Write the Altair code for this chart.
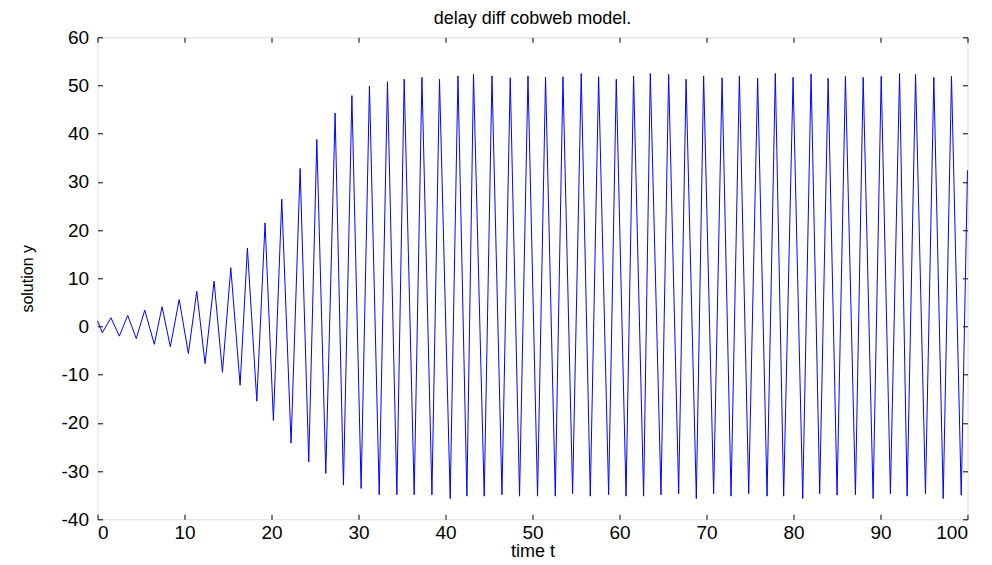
import altair as alt
import pandas as pd

# Extrema of the oscillation (time, value)
t_vals = [0.0, 0.55, 1.55, 2.51, 3.47, 4.46, 5.43, 6.53, 7.42, 8.37,
          9.39, 10.44, 11.41, 12.36, 13.40, 14.36, 15.32, 16.39, 17.23, 18.31,
          19.26, 20.22, 21.18, 22.25, 23.29, 24.28, 25.21, 26.24, 27.31, 28.27,
          29.24, 30.30, 31.26, 32.38, 33.33, 34.41, 35.25, 36.40, 37.29, 38.44,
          39.31, 40.54, 41.43, 42.46, 43.22, 44.45, 45.34, 46.49, 47.44, 48.51,
          49.48, 50.58, 51.50, 52.62, 53.50, 54.61, 55.60, 56.64, 57.60, 58.75,
          59.63, 60.75, 61.62, 62.77, 63.54, 64.77, 65.65, 66.80, 67.65, 68.83,
          69.67, 70.82, 71.79, 72.82, 73.78, 74.85, 75.88, 76.96, 77.91, 78.87,
          79.95, 81.06, 82.02, 83.01, 83.98, 85.01, 85.97, 87.12, 88.01, 89.15,
          90.08, 91.14, 92.19, 93.06, 94.03, 95.17, 96.13, 97.21, 98.16, 99.28,
          100.0]
y_vals = [1.2, -1.3, 1.8, -2.0, 2.3, -2.5, 3.4, -3.7, 4.1, -4.2,
          5.6, -5.6, 7.3, -7.7, 9.4, -9.5, 12.2, -12.2, 16.3, -15.5,
          21.5, -19.5, 26.4, -24.2, 32.8, -28.1, 38.8, -30.5, 44.3, -32.9,
          47.9, -33.6, 49.9, -34.9, 50.8, -34.9, 51.3, -34.9, 51.7, -34.9,
          51.3, -35.7, 52.0, -35.2, 52.3, -35.2, 52.0, -34.9, 51.6, -35.2,
          52.0, -35.2, 51.7, -35.2, 51.8, -34.7, 52.5, -35.2, 51.8, -34.9,
          51.3, -35.2, 52.0, -35.2, 52.5, -34.9, 52.3, -34.7, 51.3, -35.7,
          52.0, -34.7, 51.6, -35.2, 52.0, -34.7, 51.5, -35.2, 52.5, -35.2,
          51.7, -35.7, 52.4, -34.7, 51.5, -35.0, 51.9, -34.9, 51.7, -35.7,
          51.9, -34.7, 52.5, -35.2, 52.3, -34.7, 51.7, -35.7, 51.9, -35.0,
          32.4]

x_ticks = [0, 10, 20, 30, 40, 50, 60, 70, 80, 90, 100]
y_ticks = [-40, -30, -20, -10, 0, 10, 20, 30, 40, 50, 60]

df = pd.DataFrame({"t": t_vals, "y": y_vals})

FONT = "Liberation Sans"
xscale = alt.Scale(domain=[0, 100], nice=False, zero=False)
yscale = alt.Scale(domain=[-40, 60], nice=False, zero=False)

line = alt.Chart(df).mark_line(color="#0000ff", strokeWidth=1).encode(
    x=alt.X("t:Q", scale=xscale,
            axis=alt.Axis(values=x_ticks, labelExpr="'' + datum.value",
                          title="time t",
                          ticks=False, tickSize=0, domain=False, grid=False,
                          labelPadding=4, titlePadding=0,
                          labelFont=FONT, titleFont=FONT, labelFontSize=19,
                          titleFontSize=18, titleFontWeight="normal",
                          labelColor="black", titleColor="black")),
    y=alt.Y("y:Q", scale=yscale,
            axis=alt.Axis(values=y_ticks, labelExpr="'' + datum.value",
                          title="solution y",
                          ticks=False, tickSize=0, domain=False, grid=False,
                          labelPadding=9, titlePadding=26,
                          labelFont=FONT, titleFont=FONT, labelFontSize=19,
                          titleFontSize=16, titleFontWeight="normal",
                          labelColor="black", titleColor="black")),
)

def tick_layer(xorient, yorient):
    return alt.Chart(df).mark_point(opacity=0).encode(
        x=alt.X("t:Q", scale=xscale,
                axis=alt.Axis(orient=xorient, values=x_ticks, labels=False,
                              domain=False, grid=False, title=None,
                              ticks=True, tickSize=5, offset=-5,
                              tickColor="black", tickWidth=1)),
        y=alt.Y("y:Q", scale=yscale,
                axis=alt.Axis(orient=yorient, values=y_ticks, labels=False,
                              domain=False, grid=False, title=None,
                              ticks=True, tickSize=5, offset=-5,
                              tickColor="black", tickWidth=1)),
    )

chart = alt.layer(
    line, tick_layer("bottom", "left"), tick_layer("top", "right")
).resolve_axis(
    x="independent", y="independent"
).properties(
    width=870, height=482,
    title=alt.TitleParams("delay diff cobweb model.", font=FONT, fontSize=18,
                          fontWeight="normal", color="black", offset=0,
                          anchor="middle"),
    autosize=alt.AutoSizeParams(type="none"),
    padding={"left": 89.5, "top": 29.3, "right": 14, "bottom": 46},
).configure_view(
    stroke="black", strokeWidth=1.2
).configure(background="white")

chart.save("out.html", embed_options={"renderer": "svg", "actions": False})
